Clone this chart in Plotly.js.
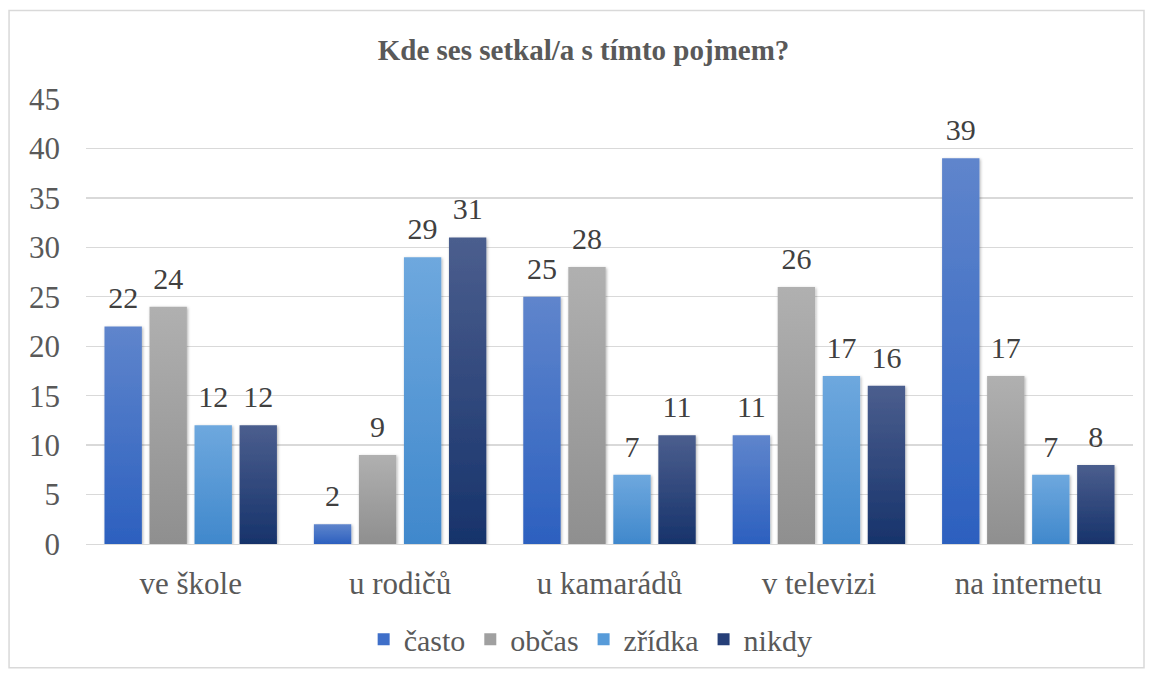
<!DOCTYPE html>
<html><head><meta charset="utf-8">
<script src="https://cdn.plot.ly/plotly-3.0.1.min.js"></script>
<style>html,body{margin:0;padding:0;background:#fff}#c{width:1151px;height:677px}</style>
</head><body><div id="c"></div>
<script>
const categories = ["ve škole", "u rodičů", "u kamarádů", "v televizi", "na internetu"];
const seriesNames = ["často", "občas", "zřídka", "nikdy"];
const casto = [22, 2, 25, 11, 39];
const obcas = [24, 9, 28, 26, 17];
const zridka = [12, 29, 7, 17, 7];
const nikdy = [12, 31, 11, 16, 8];
const yTicks = [0, 5, 10, 15, 20, 25, 30, 35, 40, 45];

const values = [casto, obcas, zridka, nikdy];
const colors = ["#3f6fc9", "#a0a0a0", "#579bd9", "#263f78"];
const grads = [["#5f85cc", "#2c60bf"], ["#b0b0b0", "#8f8f8f"], ["#6ea8de", "#4088cc"], ["#4b5e8e", "#17336b"]];
const font = "Liberation Serif";

const traces = values.map((v, i) => ({
  type: "bar", name: seriesNames[i], x: categories, y: v,
  marker: {color: colors[i]},
  text: v.map(String), textposition: "outside", cliponaxis: false,
  textfont: {family: font, size: 30, color: "#404040"},
  hoverinfo: "skip"
}));

const layout = {
  width: 1151, height: 677,
  margin: {l: 86, r: 18, t: 99, b: 133},
  paper_bgcolor: "#fff", plot_bgcolor: "#fff",
  title: {text: "<b>Kde ses setkal/a s tímto pojmem?</b>", x: 0.507, xanchor: "center", y: 0.926, yanchor: "middle",
          font: {family: font, size: 29, color: "#595959"}},
  bargap: 0.14, bargroupgap: 0.17,
  xaxis: {tickfont: {family: font, size: 31, color: "#595959"}, showline: true, linecolor: "#d9d9d9",
          ticks: "", showgrid: false, ticklabelstandoff: 12},
  yaxis: {range: [0, 45], tickvals: yTicks, showgrid: true, gridcolor: "#d9d9d9", gridwidth: 1.3,
          zeroline: false, tickfont: {family: font, size: 31, color: "#595959"}, ticklabelstandoff: 25},
  showlegend: true,
  legend: {orientation: "h", x: 0.482, xanchor: "center", y: -0.214, yanchor: "middle",
           font: {family: font, size: 30, color: "#595959"}, itemwidth: 30, traceorder: "normal"},
  shapes: [{type: "rect", xref: "paper", yref: "paper", x0: -0.0735, x1: 1.0105, y0: -0.278, y1: 1.199,
            line: {color: "#d9d9d9", width: 1.5}, fillcolor: "rgba(0,0,0,0)", layer: "below"}],
  font: {family: font}
};

Plotly.newPlot("c", traces, layout, {staticPlot: true}).then(gd => {
  const svg = gd.querySelector("svg.main-svg");
  const ns = "http://www.w3.org/2000/svg";
  let defs = svg.querySelector("defs");
  grads.forEach((g, i) => {
    const lg = document.createElementNS(ns, "linearGradient");
    lg.setAttribute("id", "bg" + i);
    lg.setAttribute("x1", "0"); lg.setAttribute("y1", "0");
    lg.setAttribute("x2", "0"); lg.setAttribute("y2", "1");
    [[0, g[0]], [1, g[1]]].forEach(([o, c]) => {
      const s = document.createElementNS(ns, "stop");
      s.setAttribute("offset", o); s.setAttribute("stop-color", c);
      lg.appendChild(s);
    });
    defs.appendChild(lg);
  });
  const f = document.createElementNS(ns, "filter");
  f.setAttribute("id", "shd"); f.setAttribute("x", "-20%"); f.setAttribute("y", "-5%");
  f.setAttribute("width", "140%"); f.setAttribute("height", "110%");
  f.innerHTML = '<feDropShadow dx="1" dy="1" stdDeviation="1.5" flood-color="#000" flood-opacity="0.3"/>';
  defs.appendChild(f);
  gd.querySelectorAll(".barlayer .trace").forEach((t, i) => {
    t.querySelectorAll("path").forEach(p => {
      p.style.fill = "url(#bg" + i + ")";
      p.setAttribute("filter", "url(#shd)");
    });
    t.querySelectorAll("text").forEach(tx => {
      const tr = tx.getAttribute("transform") || "";
      tx.setAttribute("transform", "translate(0,-9) " + tr);
    });
  });
});
</script></body></html>
